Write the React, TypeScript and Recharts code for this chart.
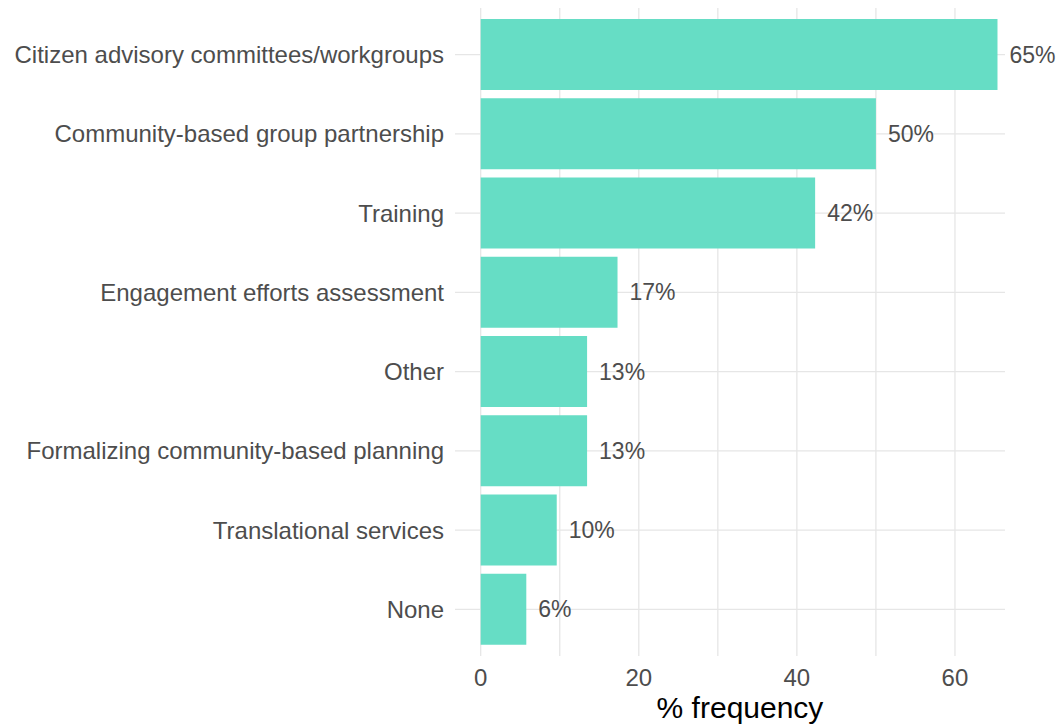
import { BarChart, Bar, XAxis, YAxis, CartesianGrid, LabelList } from 'recharts';

const categories = [
  'Citizen advisory committees/workgroups',
  'Community-based group partnership',
  'Training',
  'Engagement efforts assessment',
  'Other',
  'Formalizing community-based planning',
  'Translational services',
  'None',
];

// share of respondents, in %
const frequency = [65.38, 50.0, 42.31, 17.31, 13.46, 13.46, 9.62, 5.77];

const xTicks = [0, 10, 20, 30, 40, 50, 60];
const xLabelled = [0, 20, 40, 60];

const data = categories.map((name, i) => ({ name, value: frequency[i] }));

const FONT = '"Liberation Sans", Arial, sans-serif';

export default function App() {
  return (
    <div style={{ position: 'absolute', left: 0, top: 0, background: '#fff' }}>
      <BarChart
        width={1058}
        height={725}
        data={data}
        layout="vertical"
        margin={{ top: 8, right: 53, bottom: 0, left: 0 }}
        style={{ fontFamily: FONT }}
      >
        <CartesianGrid stroke="#E6E6E6" strokeWidth={1.3} syncWithTicks />
        <XAxis
          type="number"
          domain={[-3.25, 66.33]}
          allowDataOverflow
          ticks={xTicks}
          interval={0}
          tickFormatter={(v: number) => (xLabelled.includes(v) ? String(v) : '')}
          tick={{ fontSize: 24, fill: '#4D4D4D', fontFamily: FONT }}
          tickLine={false}
          axisLine={false}
          tickSize={0}
          tickMargin={13}
          height={69}
          label={{
            value: '% frequency',
            position: 'insideBottom',
            offset: 7,
            dx: 10,
            fontSize: 30,
            fill: '#000',
            fontFamily: FONT,
          }}
        />
        <YAxis
          type="category"
          dataKey="name"
          width={455}
          padding={{ top: 7, bottom: 7 }}
          tick={{ fontSize: 24, fill: '#4D4D4D', fontFamily: FONT }}
          tickLine={false}
          axisLine={false}
          tickSize={0}
          tickMargin={11}
          interval={0}
        />
        <Bar dataKey="value" fill="#66DDC5" barSize={71} isAnimationActive={false}>
          <LabelList
            dataKey="value"
            position="right"
            offset={12}
            formatter={(v: any) => `${Math.round(Number(v))}%`}
            style={{ fontSize: 23, fill: '#4D4D4D', fontFamily: FONT }}
          />
        </Bar>
      </BarChart>
    </div>
  );
}
